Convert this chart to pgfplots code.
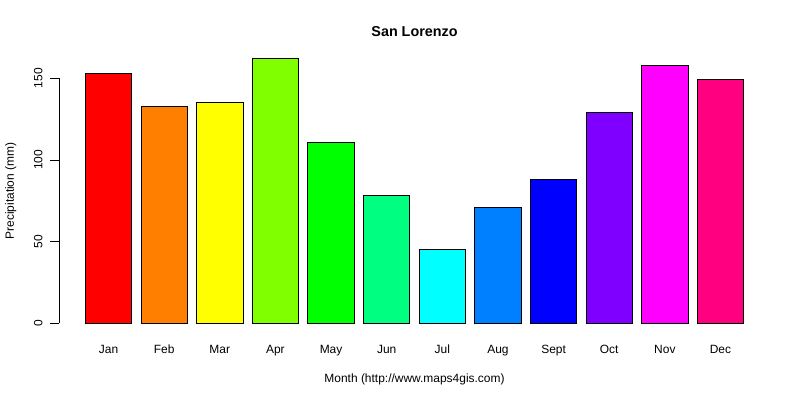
\documentclass[border=0pt]{standalone}
\usepackage{fontspec}
\setmainfont{Liberation Sans}
\usepackage{pgfplots}
\pgfplotsset{compat=1.18}

% R rainbow(12)
\definecolor{c01}{HTML}{FF0000}
\definecolor{c02}{HTML}{FF8000}
\definecolor{c03}{HTML}{FFFF00}
\definecolor{c04}{HTML}{80FF00}
\definecolor{c05}{HTML}{00FF00}
\definecolor{c06}{HTML}{00FF80}
\definecolor{c07}{HTML}{00FFFF}
\definecolor{c08}{HTML}{0080FF}
\definecolor{c09}{HTML}{0000FF}
\definecolor{c10}{HTML}{8000FF}
\definecolor{c11}{HTML}{FF00FF}
\definecolor{c12}{HTML}{FF0080}

\begin{document}
\begin{tikzpicture}
\path[use as bounding box] (-59bp,-66bp) rectangle (741bp,334bp);
\begin{axis}[
    at={(0,0)}, anchor=south west,
    scale only axis,
    width=711bp, height=286bp,
    xmin=-0.89, xmax=11.89,
    ymin=-6.48, ymax=168.48,
    axis line style={draw=none},
    xtick={0,...,11},
    xticklabels={Jan,Feb,Mar,Apr,May,Jun,Jul,Aug,Sept,Oct,Nov,Dec},
    xtick style={draw=none},
    ytick={0,50,100,150},
    ytick pos=left,
    tick align=outside,
    major tick length=9bp,
    ytick style={black, line width=0.75bp},
    /pgf/number format/assume math mode=true,
    tick label style={font=\fontsize{12}{14}\selectfont},
    xticklabel style={anchor=base},
    xticklabel shift=10.5bp,
    yticklabel style={rotate=90, anchor=base},
    yticklabel shift=7.7bp,
    ybar, bar shift=0pt, bar width=0.8333,
    every axis plot/.append style={draw=black, line width=0.9bp},
    clip=false,
]
\addplot[fill=c01] coordinates {(0,153)};
\addplot[fill=c02] coordinates {(1,133)};
\addplot[fill=c03] coordinates {(2,135)};
\addplot[fill=c04] coordinates {(3,162)};
\addplot[fill=c05] coordinates {(4,111)};
\addplot[fill=c06] coordinates {(5,78)};
\addplot[fill=c07] coordinates {(6,45)};
\addplot[fill=c08] coordinates {(7,71)};
\addplot[fill=c09] coordinates {(8,88)};
\addplot[fill=c10] coordinates {(9,129)};
\addplot[fill=c11] coordinates {(10,158)};
\addplot[fill=c12] coordinates {(11,149)};
\draw[black, line width=0.75bp] (axis cs:-0.89,0) -- (axis cs:-0.89,150);
\end{axis}
\node[anchor=base, font=\fontsize{14.4}{16}\selectfont\bfseries] at (355.5bp,297.8bp) {San Lorenzo};
\node[anchor=base, font=\fontsize{12}{14}\selectfont] at (355.5bp,-48.3bp) {Month (http://www.maps4gis.com)};
\node[anchor=base, rotate=90, font=\fontsize{12}{14}\selectfont] at (-45.2bp,143bp) {Precipitation (mm)};
\end{tikzpicture}
\end{document}
